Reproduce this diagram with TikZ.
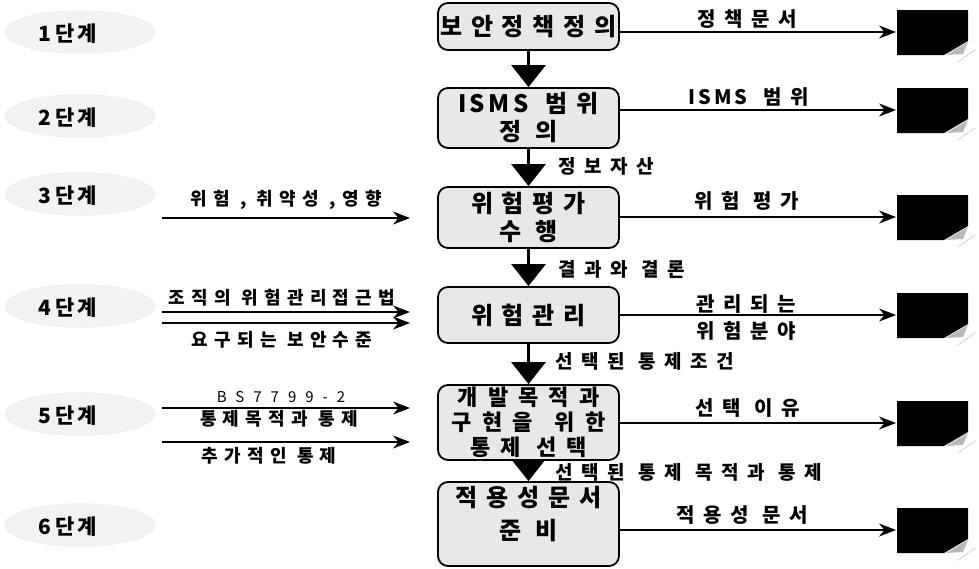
\documentclass[tikz,border=0pt]{standalone}
\usepackage{fontspec}
\usetikzlibrary{arrows.meta,shapes.geometric}
\newfontfamily\krbox{Noto Sans CJK KR}[LetterSpace=37]
\newfontfamily\krboxv{Noto Sans CJK KR}[LetterSpace=46]
\newfontfamily\krright{Noto Sans CJK KR}[LetterSpace=44]
\newfontfamily\krleft{Noto Sans CJK KR}[LetterSpace=35]
\newfontfamily\krdown{Noto Sans CJK KR}[LetterSpace=46]
\newfontfamily\krstage{Noto Sans CJK KR}[LetterSpace=17]
\newfontfamily\krlat{Noto Sans CJK KR}[LetterSpace=60]
\newfontfamily\krisms{Noto Sans CJK KR}[LetterSpace=14]
\newcommand{\docicon}[2]{%
  \fill[black] (897,#2-22) -- (968,#2-22) -- (968,#2+9) -- (944,#2+23) -- (897,#2+23) -- cycle;
  \fill[gray!55] (946,#2+23) -- (968,#2+10) -- (963,#2+22) -- cycle;
  \draw[gray!45, densely dotted, line width=1.2pt] (958,#2+30) -- (975,#2+18);
  \coordinate (#1) at (896,#2);
}
\begin{document}
\begin{tikzpicture}[x=1pt,y=-1pt,
  stepbox/.style={draw, line width=1.8pt, rounded corners=10pt, fill=gray!18,
    minimum width=181pt, align=center, inner sep=0pt,
    font=\krbox\bfseries\fontsize{24}{28}\selectfont},
  stage/.style={ellipse, fill=gray!10, draw=gray!35, densely dotted,
    minimum width=150pt, minimum height=43pt, inner sep=0pt},
  stagetxt/.style={font=\krstage\bfseries\fontsize{21}{24}\selectfont, inner sep=0pt},
  rlab/.style={font=\krright\bfseries\fontsize{20}{22}\selectfont, inner sep=0pt},
  llab/.style={font=\krleft\bfseries\fontsize{18}{20}\selectfont, inner sep=0pt},
  dlab/.style={font=\krdown\bfseries\fontsize{19}{20}\selectfont, anchor=west, inner sep=0pt},
  rarr/.style={line width=1.3pt, -{Stealth[length=17pt,width=13pt]}},
  darr/.style={line width=3pt, -{Triangle[length=22pt,width=34pt]}}]
\useasboundingbox (0,0) rectangle (979,568);

% stage ellipses
\foreach \n/\y in {1/34,2/118,3/196,4/308,5/416,6/527}{
  \node[stage] (s\n) at (80,\y-2) {};
  \node[stagetxt] (t\n) at (68,\y) {\n{}단계};
}

% main boxes
\node[stepbox, minimum height=47pt] (b1) at (528.5,26.5) {보안정책정의};
\node[stepbox, minimum height=60pt] (b2) at (528.5,118) {{\krisms ISMS} \hspace{3pt}범위\\정 의};
\node[stepbox, minimum height=61pt] (b3) at (528.5,217.5) {위험평가\\수 행};
\node[stepbox, minimum height=56pt] (b4) at (528.5,315) {위험관리};
\node[stepbox, minimum height=75pt, font=\krboxv\bfseries\fontsize{22}{25}\selectfont] (b5) at (528.5,422.5) {개발목적과\\구현을 \hspace{7pt}위한\\통제 선택};
\node[stepbox, minimum height=84pt] (b6) at (528.5,524) {};
\node[align=center, inner sep=0pt, font=\krbox\bfseries\fontsize{24}{33}\selectfont] (b6t) at (528.5,514) {적용성문서\\준 비};

% down arrows
\draw[darr] (b1.south) -- (b2.north);
\draw[darr] (b2.south) -- (b3.north);
\draw[darr] (b3.south) -- (b4.north);
\draw[darr] (b4.south) -- (b5.north);
\draw[darr] (b5.south) -- (b6.north);

\node[dlab] (l2) at (558,166) {정보자산};
\node[dlab] (l3) at (558,270) {결과와 결론};
\node[dlab] (l4) at (555,361) {선택된 통제조건};
\node[dlab] (l5) at (555,472) {선택된 통제 목적과 통제};

% document icons
\docicon{d1}{32}
\docicon{d2}{110}
\docicon{d3}{217}
\docicon{d4}{315}
\docicon{d5}{423}
\docicon{d6}{530}

% right arrows
\draw[rarr] (b1.east |- d1) -- (d1);
\draw[rarr] (b2.east |- d2) -- (d2);
\draw[rarr] (b3.east |- d3) -- (d3);
\draw[rarr] (b4.east |- d4) -- (d4);
\draw[rarr] (b5.east |- d5) -- (d5);
\draw[rarr] (b6.east |- d6) -- (d6);

\node[rlab] (r1) at (747,19) {정책문서};
\node[rlab] (r2) at (749,97) {{\krisms ISMS} \hspace{3pt}범위};
\node[rlab] (r3) at (747,201) {위험 평가};
\node[rlab] (r4a) at (746,304) {관리되는};
\node[rlab] (r4b) at (746,331) {위험분야};
\node[rlab] (r5) at (748,408) {선택 이유};
\node[rlab] (r6) at (742,515) {적용성 문서};

% left inputs
\coordinate (i3s) at (162,218);
\coordinate (i3e) at (410,218);
\draw[rarr] (i3s) -- (i3e);
\node[llab] (p3) at (286,200) {위험 , 취약성 ,영향};

\coordinate (i4s) at (162,312);
\coordinate (i4e) at (410,312);
\coordinate (j4s) at (162,323);
\coordinate (j4e) at (410,323);
\draw[rarr] (i4s) -- (i4e);
\draw[rarr] (j4s) -- (j4e);
\node[llab] (p4a) at (282,298) {조직의 위험관리접근법};
\node[llab] (p4b) at (282,340) {요구되는 보안수준};

\coordinate (i5s) at (162,408);
\coordinate (i5e) at (410,408);
\coordinate (j5s) at (162,442);
\coordinate (j5e) at (410,442);
\draw[rarr] (i5s) -- (i5e);
\draw[rarr] (j5s) -- (j5e);
\node[llab, font=\krlat\fontsize{15}{18}\selectfont] (p5a) at (281,397) {BS7799-2};
\node[llab] (p5b) at (279,419) {통제목적과 통제};
\node[llab] (p5c) at (269,456) {추가적인 통제};
\end{tikzpicture}
\end{document}
